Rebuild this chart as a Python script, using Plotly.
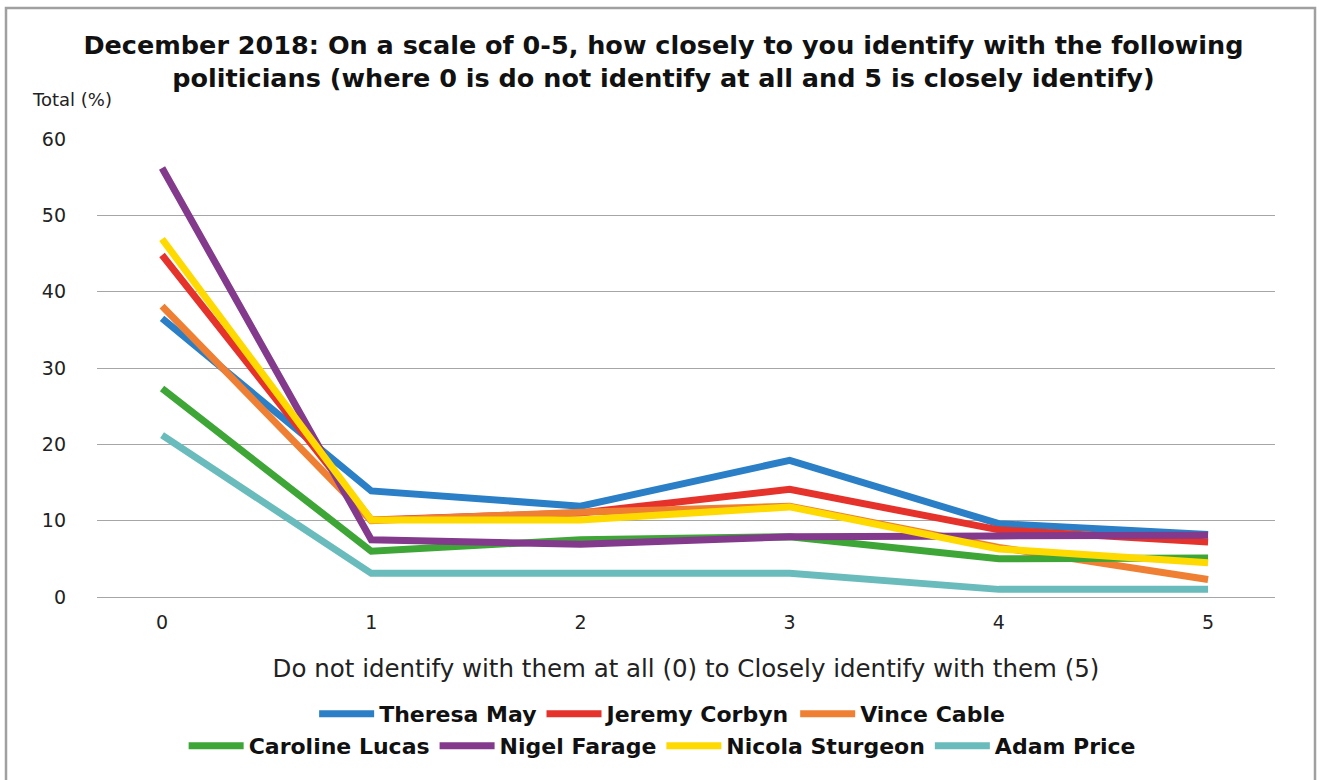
import plotly.graph_objects as go

# Identification scale (0 = do not identify, 5 = closely identify)
scale = [0, 1, 2, 3, 4, 5]

politicians = ["Theresa May", "Jeremy Corbyn", "Vince Cable",
               "Caroline Lucas", "Nigel Farage", "Nicola Sturgeon", "Adam Price"]

theresa_may = [36.5, 13.9, 11.9, 17.9, 9.6, 8.2]
jeremy_corbyn = [44.8, 10.1, 11.0, 14.1, 8.8, 7.2]
vince_cable = [38.1, 10.0, 11.1, 11.9, 6.5, 2.3]
caroline_lucas = [27.3, 6.0, 7.5, 7.9, 5.0, 5.1]
nigel_farage = [56.2, 7.5, 6.9, 7.9, 8.0, 8.1]
nicola_sturgeon = [46.9, 10.1, 10.1, 11.8, 6.3, 4.5]
adam_price = [21.2, 3.1, 3.1, 3.1, 1.0, 1.0]

series = [theresa_may, jeremy_corbyn, vince_cable, caroline_lucas,
          nigel_farage, nicola_sturgeon, adam_price]
colors = ["#2A7FC6", "#E5322B", "#EF7F32", "#3EA636",
          "#833A8C", "#FFDA00", "#6ABCBC"]

y_ticks = [0, 10, 20, 30, 40, 50, 60]

BODY = "DejaVu Sans, Open Sans, sans-serif"
HEAVY = "DejaVu Sans, Roboto, sans-serif"

fig = go.Figure()
for i, (name, vals, col) in enumerate(zip(politicians, series, colors)):
    fig.add_trace(go.Scatter(
        x=scale, y=vals, name=name, mode="lines",
        line=dict(color=col, width=7),
        legend="legend" if i < 3 else "legend2",
    ))

W, H = 1319, 780
L, R, T, B = 97, 44, 139, 183
pw, ph = W - L - R, H - T - B


def px(x):
    return (x - L) / pw


def py(y):
    return (H - B - y) / ph


legend_style = dict(
    orientation="h", xref="container", x=0.502, xanchor="center",
    yref="container", yanchor="middle",
    font=dict(family=HEAVY, size=22, color="#111", weight="bold"),
    bgcolor="rgba(0,0,0,0)", itemwidth=55, tracegroupgap=0,
)

fig.update_layout(
    width=W, height=H, autosize=False,
    margin=dict(l=L, r=R, t=T, b=B, autoexpand=False),
    paper_bgcolor="white", plot_bgcolor="white",
    title=dict(
        text="December 2018: On a scale of 0-5, how closely to you identify with the following<br>"
             "politicians (where 0 is do not identify at all and 5 is closely identify)",
        xref="container", x=0.503, xanchor="center",
        yref="container", y=1 - 54 / H, yanchor="top",
        font=dict(family=HEAVY, size=25.5, color="#111", weight="bold"),
    ),
    legend=dict(**legend_style, y=1 - 714 / H),
    legend2=dict(**legend_style, y=1 - 746 / H),
    xaxis=dict(
        range=[-0.311, 5.32], tickvals=scale, ticktext=[str(s) for s in scale],
        showgrid=False, zeroline=False, showline=False, ticks="",
        tickfont=dict(family=BODY, size=19, color="#222"),
        ticklabelstandoff=12,
        title=dict(text="Do not identify with them at all (0) to Closely identify with them (5)",
                   font=dict(family=BODY, size=24.5, color="#222"), standoff=27),
    ),
    yaxis=dict(
        range=[0, 60], tickvals=y_ticks, showgrid=True, gridcolor="#A6A6A6", gridwidth=1.3,
        zeroline=True, zerolinecolor="#A6A6A6", zerolinewidth=1.3,
        showline=False, ticks="",
        tickfont=dict(family=BODY, size=19, color="#222"),
        ticklabelstandoff=30,
    ),
    annotations=[dict(
        text="Total (%)", xref="paper", yref="paper",
        x=px(30), y=py(100), xanchor="left", yanchor="middle", showarrow=False,
        font=dict(family=BODY, size=18, color="#222"),
    )],
    shapes=[dict(
        type="rect", xref="paper", yref="paper",
        x0=px(6), x1=px(1315), y0=py(790), y1=py(8),
        line=dict(color="#A0A0A0", width=2.5), fillcolor="rgba(0,0,0,0)", layer="below",
    )],
)

fig.write_html("out.html")
